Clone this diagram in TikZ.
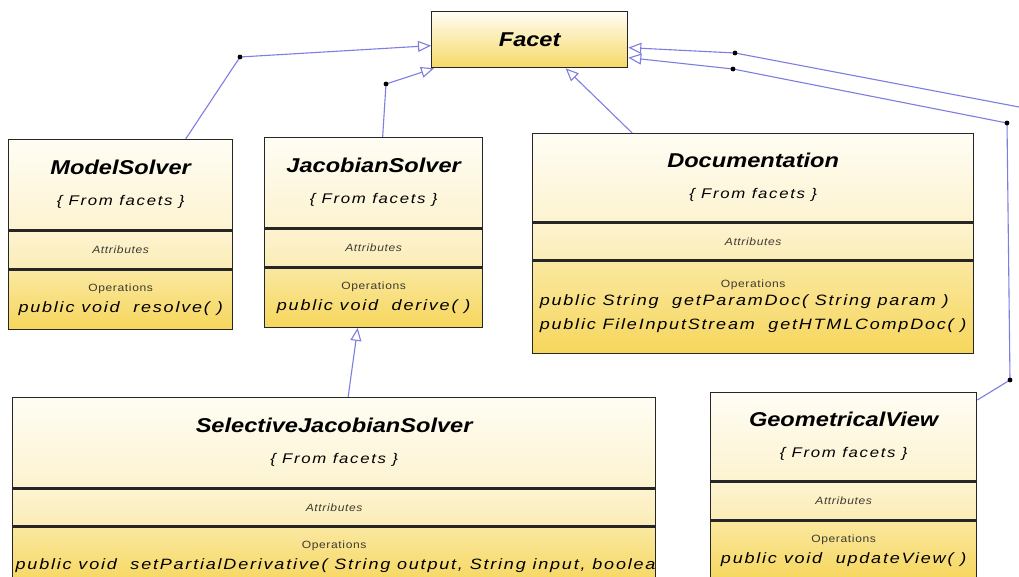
\documentclass[tikz,border=0pt]{standalone}
\usepackage{fontspec}
\setmainfont{Liberation Sans}
\newfontfamily\umlname[FakeStretch=1.18]{Liberation Sans}
\newfontfamily\umltext[FakeStretch=1.2,LetterSpace=12]{Liberation Sans}
\newfontfamily\umlsmall[FakeStretch=1.15,LetterSpace=6]{Liberation Sans}
\usetikzlibrary{arrows.meta}

\definecolor{link}{RGB}{126,126,226}
\definecolor{capt}{RGB}{60,58,50}
\definecolor{yA}{RGB}{255,253,244}
\definecolor{yB}{RGB}{253,243,208}
\definecolor{yC}{RGB}{251,237,182}
\definecolor{yD}{RGB}{250,232,160}
\definecolor{yE}{RGB}{246,214,92}

\newcommand{\clsname}[1]{{\umlname\fontsize{20}{24}\selectfont\bfseries\itshape #1}}
\newcommand{\fromtxt}{{\umltext\fontsize{14}{17}\selectfont\itshape \{ From facets \}}}
\newcommand{\attrtxt}{{\umlsmall\fontsize{10.5}{12}\selectfont\itshape\color{capt} Attributes}}
\newcommand{\opertxt}{{\umlsmall\fontsize{10.5}{12}\selectfont\color{capt} Operations}}
\newcommand{\methtxt}[1]{{\umltext\fontsize{15}{18}\selectfont\itshape #1}}

\begin{document}
\begin{tikzpicture}[x=1pt,y=-1pt,
 box/.style={draw=black!85,line width=1.3pt,inner sep=0pt,align=center,font=\fontsize{14}{17}\selectfont},
 ttl/.style={box,top color=yA,bottom color=yB},
 att/.style={box,top color=yB,bottom color=yC,anchor=north},
 ops/.style={box,top color=yD,bottom color=yE,anchor=north},
 fct/.style={box,top color=yA,bottom color=yE!85!yD},
 inh/.style={draw=link,line width=1.1pt,-{Triangle[open,length=13pt,width=11pt]}},
 knot/.style={fill=black}]
 \clip (0,0) rectangle (1019,577);
 \fill[white] (0,0) rectangle (1019,577);
 % superclass
 \node[fct,minimum width=196pt,minimum height=56pt,anchor=north west] (fc) at (431,11) {\clsname{Facet}};
 % ModelSolver
 \node[ttl,minimum width=224pt,minimum height=90pt,anchor=north west] (ms) at (8,139) {\clsname{ModelSolver}\\[14pt]\fromtxt};
 \node[att,minimum width=224pt,minimum height=38pt] (msa) at (ms.south) {\attrtxt};
 \node[ops,minimum width=224pt,minimum height=59pt] (mso) at (msa.south) {\opertxt\\[4pt]\methtxt{public void\ \ resolve( )}};
 % JacobianSolver
 \node[ttl,minimum width=218pt,minimum height=90pt,anchor=north west] (js) at (264,137) {\clsname{JacobianSolver}\\[14pt]\fromtxt};
 \node[att,minimum width=218pt,minimum height=38pt] (jsa) at (js.south) {\attrtxt};
 \node[ops,minimum width=218pt,minimum height=59pt] (jso) at (jsa.south) {\opertxt\\[4pt]\methtxt{public void\ \ derive( )}};
 % Documentation
 \node[ttl,minimum width=441pt,minimum height=88pt,anchor=north west] (dc) at (532,133) {\clsname{Documentation}\\[14pt]\fromtxt};
 \node[att,minimum width=441pt,minimum height=37pt] (dca) at (dc.south) {\attrtxt};
 \node[ops,minimum width=441pt,minimum height=92pt] (dco) at (dca.south) {\opertxt\\[2pt]
  \methtxt{\begin{tabular}{@{}l@{}}public String\ \ getParamDoc( String param )\\[6pt]public FileInputStream\ \ getHTMLCompDoc( )\end{tabular}}};
 % SelectiveJacobianSolver
 \begin{scope}
 \clip (11,396) rectangle (655.8,578);
 \node[ttl,minimum width=643pt,minimum height=90pt,anchor=north west] (sj) at (12,397) {\clsname{SelectiveJacobianSolver}\\[14pt]\fromtxt};
 \node[att,minimum width=643pt,minimum height=37pt] (sja) at (sj.south) {\attrtxt};
 \node[ops,minimum width=643pt,minimum height=59pt] (sjo) at (sja.south) {\opertxt\\[4pt]
  \methtxt{\makebox[637pt][l]{public void\ \ setPartialDerivative( String output, String input, boolean}}};
 \end{scope}
 % GeometricalView
 \node[ttl,minimum width=266pt,minimum height=88pt,anchor=north west] (gv) at (710,392) {\clsname{GeometricalView}\\[14pt]\fromtxt};
 \node[att,minimum width=266pt,minimum height=38pt] (gva) at (gv.south) {\attrtxt};
 \node[ops,minimum width=266pt,minimum height=59pt] (gvo) at (gva.south) {\opertxt\\[4pt]\methtxt{public void\ \ updateView( )}};
 % bend points
 \coordinate (k1) at (240,57);
 \coordinate (k2) at (386,84);
 \coordinate (k3) at (1010,380);
 \coordinate (k4) at (1007,123);
 \coordinate (k5) at (733,69);
 \coordinate (k6) at (735,53);
 \coordinate (away) at (1019,107);
 % generalisations
 \draw[inh] ([xshift=65pt]ms.north) -- (k1) -- ([yshift=-6pt]fc.west);
 \draw[inh] ([xshift=9pt]js.north) -- (k2) -- ([xshift=3pt]fc.south west);
 \draw[inh] ([xshift=-121pt]dc.north) -- ([xshift=36pt]fc.south);
 \draw[inh] ([xshift=14pt]sj.north) -- ([xshift=-16pt]jso.south);
 \draw[inh] ([yshift=-8pt]gv.north east) -- (k3) -- (k4) -- (k5) -- ([yshift=-18pt]fc.east);
 \draw[inh] (away) -- (k6) -- ([yshift=-8pt]fc.east);
 \foreach \k in {k1,k2,k3,k4,k5,k6} \fill[knot] (\k) circle (2.4pt);
\end{tikzpicture}
\end{document}
